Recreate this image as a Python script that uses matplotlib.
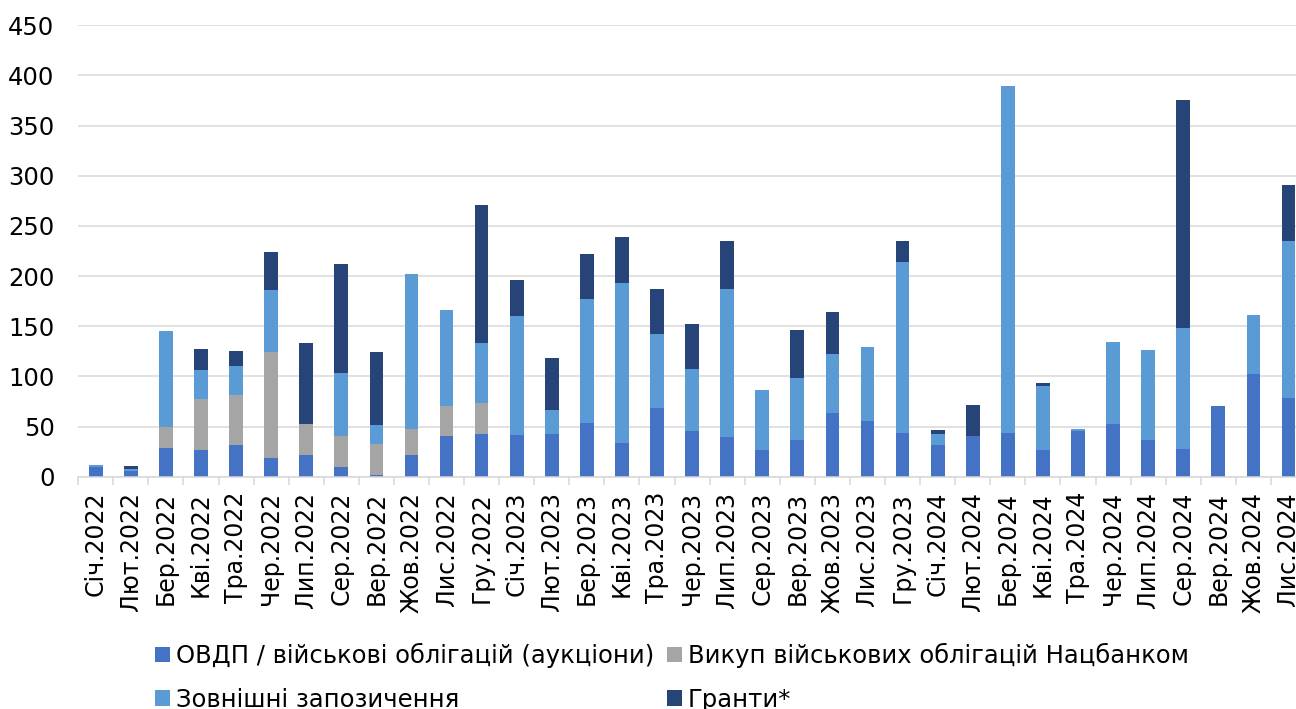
import matplotlib
matplotlib.use("Agg")
import matplotlib.pyplot as plt
import numpy as np
from matplotlib.patches import Patch

months = ["Січ", "Лют", "Бер", "Кві", "Тра", "Чер", "Лип", "Сер", "Вер", "Жов", "Лис", "Гру"]
categories = [f"{m}.2022" for m in months] + [f"{m}.2023" for m in months] + [f"{m}.2024" for m in months[:11]]

ovdp = [10, 5.5, 29, 27, 31.6, 19, 22, 10, 2, 22, 40.3, 43,
        41.3, 42.3, 53.2, 34, 68.5, 45.2, 39.3, 26.3, 36.3, 63.8, 55.8, 43.9,
        31.9, 40.6, 43.9, 26.6, 45.9, 52.2, 36.3, 27.6, 70.5, 102.7, 78.8]
nbu = [0, 0, 20.5, 50.5, 50, 105, 31, 30.6, 30.5, 25.5, 30.2, 30.3,
       0, 0, 0, 0, 0, 0, 0, 0, 0, 0, 0, 0,
       0, 0, 0, 0, 0, 0, 0, 0, 0, 0, 0]
external = [1.4, 2, 95.5, 29, 29, 62.5, 0, 62.5, 19, 154.5, 95.7, 60,
            118.6, 24.2, 124, 159, 73.8, 62.2, 147.8, 60.4, 62.4, 58.2, 73.5, 170,
            11, 0, 345.6, 63.8, 1.7, 82.4, 89.7, 120.4, 0, 58.2, 155.9]
grants = [0, 3, 0, 21, 15, 38, 80.5, 109, 72.5, 0, 0, 138,
          35.8, 51.5, 45, 45.6, 45, 44.8, 47.6, 0, 47.6, 41.9, 0, 21,
          3.7, 30.6, 0, 2.7, 0, 0, 0, 227.6, 0, 0, 56.1]

series_names = ["ОВДП / військові облігацій (аукціони)", "Викуп військових облігацій Нацбанком",
                "Зовнішні запозичення", "Гранти*"]
colors = ["#4472C4", "#A5A5A5", "#5B9BD5", "#264478"]
yticks = [0, 50, 100, 150, 200, 250, 300, 350, 400, 450]

plt.rcParams['font.family'] = ['DejaVu Sans']

W, H = 1296, 709
fig = plt.figure(figsize=(W / 100, H / 100), dpi=100)
left_px, right_px, bottom_px, top_px = 78.2, 1296, 476.7, 25.3
ax = fig.add_axes([left_px / W, 1 - bottom_px / H, (right_px - left_px) / W, (bottom_px - top_px) / H])

x = np.arange(len(categories))
bottom = np.zeros(len(categories))
for vals, c in zip([ovdp, nbu, external, grants], colors):
    v = np.array(vals, dtype=float)
    ax.bar(x, v, width=0.39, bottom=bottom, color=c, zorder=3, linewidth=0)
    bottom += v

ax.set_yticks(yticks)
ax.set_yticklabels([str(t) for t in yticks], fontsize=17.5, color="#000000")
ax.tick_params(axis="y", length=0, pad=17)

ax.set_xticks(x)
ax.set_xticklabels(categories, rotation=90, fontsize=17, ha="center", va="top")
ax.tick_params(axis="x", which="major", length=0, pad=11)
ax.set_xticks(np.arange(-0.5, len(categories), 1), minor=True)
ax.tick_params(axis="x", which="minor", length=6, width=1.1, color="#D9D9D9")

ncat_visible = (right_px - left_px) / 35.08
ax.set_xlim(-0.5, -0.5 + ncat_visible)
ax.set_ylim(0, 450)

ax.grid(axis="y", color="#D9D9D9", linewidth=1.1, zorder=0)
ax.set_axisbelow(True)
for s in ["top", "right", "left"]:
    ax.spines[s].set_visible(False)
ax.spines["bottom"].set_color("#D9D9D9")
ax.spines["bottom"].set_linewidth(1.1)
ax.spines["bottom"].set_zorder(4)

order = [0, 2, 1, 3]
handles = [Patch(facecolor=colors[i], edgecolor="none") for i in order]
labels = [series_names[i] for i in order]
fig.legend(handles, labels, loc="upper left", bbox_to_anchor=(155 / W, 1 - 643 / H),
           ncol=2, frameon=False, fontsize=17.5, handlelength=0.6, handleheight=0.6,
           handletextpad=0.25, columnspacing=0.55, labelspacing=0.8, borderpad=0, borderaxespad=0)

fig.savefig("out.png", dpi=100)
